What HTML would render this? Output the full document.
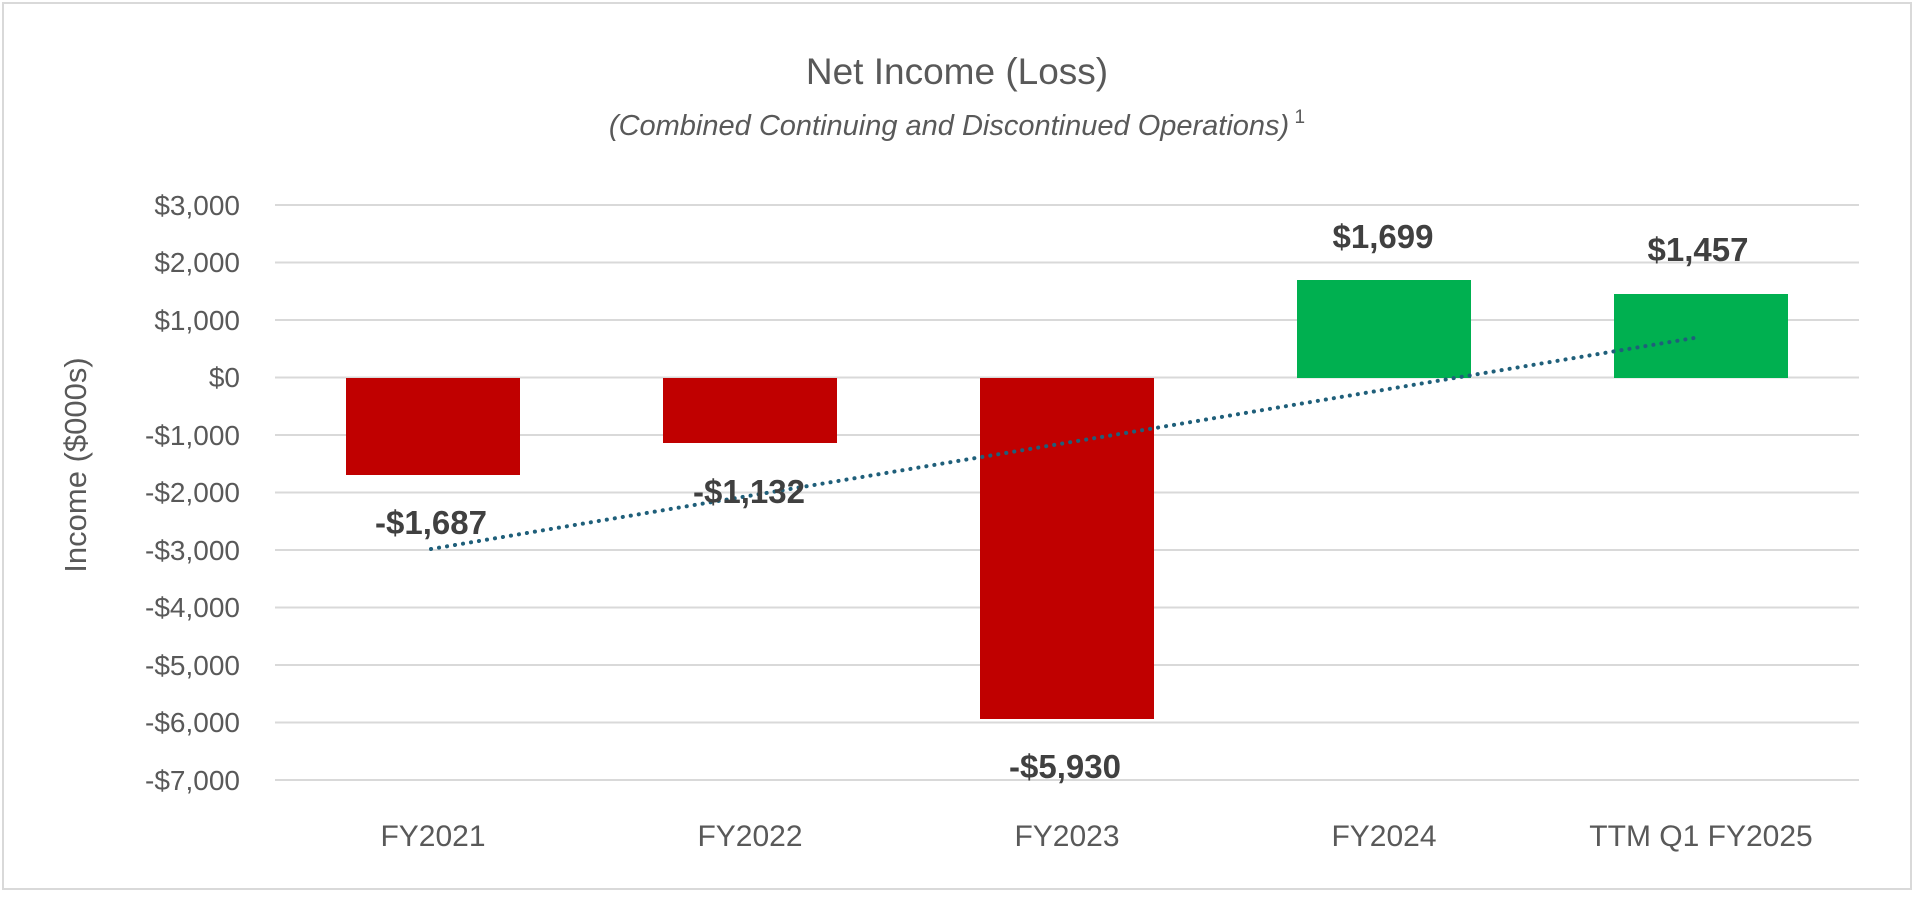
<!DOCTYPE html>
<html><head><meta charset="utf-8"><style>
body{margin:0;background:#fff;}
svg text{font-family:"Liberation Sans",sans-serif;}
</style></head><body>
<svg width="1915" height="893" viewBox="0 0 1915 893" xmlns="http://www.w3.org/2000/svg">
<rect x="3" y="3" width="1908" height="886" fill="#fff" stroke="#d9d9d9" stroke-width="2"/>
<text x="957" y="84" text-anchor="middle" font-size="37" fill="#595959">Net Income (Loss)</text>
<text x="957" y="135" text-anchor="middle" font-size="29" font-style="italic" fill="#595959">(Combined Continuing and Discontinued Operations)<tspan font-size="19" font-style="normal" dy="-12"> 1</tspan></text>
<g stroke="#d9d9d9" stroke-width="2">
<line x1="275" x2="1859" y1="205" y2="205"/><line x1="275" x2="1859" y1="262.5" y2="262.5"/>
<line x1="275" x2="1859" y1="320" y2="320"/><line x1="275" x2="1859" y1="377.5" y2="377.5"/>
<line x1="275" x2="1859" y1="435" y2="435"/><line x1="275" x2="1859" y1="492.5" y2="492.5"/>
<line x1="275" x2="1859" y1="550" y2="550"/><line x1="275" x2="1859" y1="607.5" y2="607.5"/>
<line x1="275" x2="1859" y1="665" y2="665"/><line x1="275" x2="1859" y1="722.5" y2="722.5"/>
<line x1="275" x2="1859" y1="780" y2="780"/>
</g>
<g font-size="28" fill="#595959" text-anchor="end">
<text x="240" y="215">$3,000</text><text x="240" y="272">$2,000</text><text x="240" y="330">$1,000</text>
<text x="240" y="387">$0</text><text x="240" y="445">-$1,000</text><text x="240" y="502">-$2,000</text>
<text x="240" y="560">-$3,000</text><text x="240" y="617">-$4,000</text><text x="240" y="675">-$5,000</text>
<text x="240" y="732">-$6,000</text><text x="240" y="790">-$7,000</text>
</g>
<text transform="translate(86,465) rotate(-90)" text-anchor="middle" font-size="31" fill="#595959">Income ($000s)</text>
<rect x="346" y="378" width="174" height="97" fill="#c00000"/>
<rect x="663" y="378" width="174" height="65" fill="#c00000"/>
<rect x="980" y="378" width="174" height="341" fill="#c00000"/>
<rect x="1297" y="280" width="174" height="98" fill="#00b050"/>
<rect x="1614" y="294" width="174" height="84" fill="#00b050"/>
<line x1="431" y1="549" x2="1700" y2="337" stroke="#1f5f7a" stroke-width="4" stroke-dasharray="0.1 8" stroke-linecap="round"/>
<g font-size="33" font-weight="bold" fill="#404040" text-anchor="middle">
<text x="431" y="534">-$1,687</text><text x="749" y="503">-$1,132</text><text x="1065" y="778">-$5,930</text>
<text x="1383" y="248">$1,699</text><text x="1698" y="261">$1,457</text>
</g>
<g font-size="30" fill="#595959" text-anchor="middle">
<text x="433" y="846">FY2021</text><text x="750" y="846">FY2022</text><text x="1067" y="846">FY2023</text>
<text x="1384" y="846">FY2024</text><text x="1701" y="846">TTM Q1 FY2025</text>
</g>
</svg>
</body></html>
